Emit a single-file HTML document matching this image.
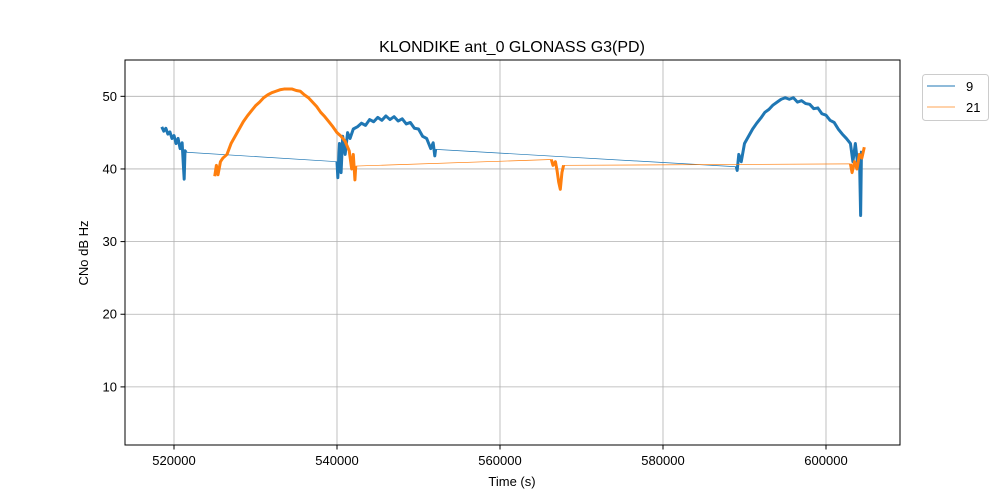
<!DOCTYPE html>
<html><head><meta charset="utf-8"><style>
html,body{margin:0;padding:0;background:#fff;}
svg{display:block;font-family:"Liberation Sans","DejaVu Sans",sans-serif;}
</style></head><body>
<svg id="chart" width="1000" height="500" xmlns="http://www.w3.org/2000/svg">
<rect width="1000" height="500" fill="#fff"/>
<text x="512" y="52" font-size="16" text-anchor="middle">KLONDIKE ant_0 GLONASS G3(PD)</text>
<g id="grid"></g>
<g id="series"></g>
<rect x="125" y="60" width="775" height="385" fill="none" stroke="#000" stroke-width="1"/>
<g id="ticks"></g>
<text x="512" y="486" font-size="13" text-anchor="middle">Time (s)</text>
<text transform="translate(88,253) rotate(-90)" font-size="13" text-anchor="middle">CNo dB Hz</text>
<g>
<rect x="922.5" y="74.5" width="66" height="46" rx="3" fill="#fff" stroke="#ccc"/>
<line x1="927" y1="86" x2="955" y2="86" stroke="#1f77b4" stroke-width="1"/>
<text x="966" y="91" font-size="13">9</text>
<line x1="927" y1="107" x2="955" y2="107" stroke="#ff7f0e" stroke-width="1" opacity="0.7"/>
<text x="966" y="112" font-size="13">21</text>
</g>
</svg>
<script>
const xTicks=[520000,540000,560000,580000,600000];
const yTicks=[10,20,30,40,50];
const sat9=[
[[518500,45.8],[518750,45.2],[519000,45.6],[519250,44.8],[519500,45.1],[519750,44.2],[520000,44.6],[520250,43.5],[520500,44.2],[520750,42.8],[521000,43.6],[521150,40.5],[521250,38.6],[521350,42.5],[521500,42.3]],
[[540000,41.0],[540100,38.8],[540300,43.5],[540500,39.5],[540700,44.5],[541000,42],[541300,45],[541600,44.2],[542000,45.5],[542500,45.8],[543000,46.3],[543500,46.0],[544000,46.8],[544500,46.5],[545000,47.1],[545500,46.7],[546000,47.3],[546500,46.8],[547000,47.2],[547500,46.6],[548000,46.9],[548500,46.2],[549000,46.4],[549500,45.6],[550000,45.5],[550500,44.5],[551000,44.2],[551500,42.8],[551800,43.6],[552000,41.8],[552100,42.7]],
[[589000,40.3],[589100,39.8],[589300,42],[589600,41],[590000,43.5],[590500,44.5],[591000,45.5],[591500,46.3],[592000,47],[592500,47.8],[593000,48.2],[593500,48.8],[594000,49.2],[594500,49.6],[595000,49.8],[595500,49.6],[596000,49.8],[596500,49.2],[597000,49.4],[597500,49.0],[598000,48.9],[598500,48.3],[599000,48.4],[599500,47.6],[600000,47.4],[600500,46.7],[601000,46.4],[601500,45.5],[602000,44.8],[602500,44.2],[603000,43.5],[603300,41],[603600,43.5],[603900,40.5],[604100,42],[604250,33.6],[604350,42.5]]
];
const sat21=[
[[525000,39],[525200,40.5],[525400,39.2],[525700,41],[526000,41.5],[526500,42],[527000,43.5],[527500,44.5],[528000,45.5],[528500,46.5],[529000,47.3],[529500,48],[530000,48.7],[530500,49.2],[531000,49.8],[531500,50.2],[532000,50.5],[532500,50.7],[533000,50.9],[533500,51],[534000,51],[534500,51],[535000,50.8],[535500,50.7],[536000,50.2],[536500,49.8],[537000,49.2],[537500,48.6],[538000,47.8],[538500,47.2],[539000,46.5],[539500,45.8],[540000,45],[540500,44.5],[541000,43.8],[541500,42.5],[541800,40],[542000,42],[542200,38.5],[542300,40.4]],
[[566300,41.3],[566500,40.5],[566800,41],[567000,39.8],[567200,38.2],[567400,37.2],[567600,39.5],[567800,40.5]],
[[603000,40.7],[603200,39.5],[603500,41],[603800,40],[604100,42],[604400,41.5],[604700,43]]
];
const X0=513988,X1=609080,Y0=2,Y1=55;
const px=t=>125+(t-X0)/(X1-X0)*775;
const py=v=>445-(v-Y0)/(Y1-Y0)*385;
const NS="http://www.w3.org/2000/svg";
const grid=document.getElementById('grid'),ticks=document.getElementById('ticks'),ser=document.getElementById('series');
function mk(tag,attrs,parent){const e=document.createElementNS(NS,tag);for(const k in attrs)e.setAttribute(k,attrs[k]);parent.appendChild(e);return e;}
xTicks.forEach(t=>{const x=px(t);
 const g=mk('line',{x1:x,y1:60,x2:x,y2:445,stroke:'#b0b0b0','stroke-width':0.8},grid);
 
 
 const tk=mk('line',{x1:x,y1:445,x2:x,y2:449.5,stroke:'#000'},ticks);
 
 
 const tx=mk('text',{x:x,y:465,'font-size':13,'text-anchor':'middle'},ticks);tx.textContent=t;
 
 
});
yTicks.forEach(v=>{const y=py(v);
 const g=mk('line',{x1:125,y1:y,x2:900,y2:y,stroke:'#b0b0b0','stroke-width':0.8},grid);
 
 
 const tk=mk('line',{x1:120.5,y1:y,x2:125,y2:y,stroke:'#000'},ticks);
 
 
 const tx=mk('text',{x:117,y:y+4.5,'font-size':13,'text-anchor':'end'},ticks);tx.textContent=v;
 
 
});
function draw(segs,color,name){
 for(let i=0;i<segs.length-1;i++){const a=segs[i][segs[i].length-1],b=segs[i+1][0];
  const l=mk('line',{x1:px(a[0]),y1:py(a[1]),x2:px(b[0]),y2:py(b[1]),stroke:color,'stroke-width':0.7},ser);
  
  
 }
 segs.forEach(s=>{const p=mk('polyline',{points:s.map(d=>px(d[0])+','+py(d[1])).join(' '),fill:'none',stroke:color,'stroke-width':3,'stroke-linejoin':'round'},ser);
  
  
 });
}
draw(sat9,'#1f77b4','series-9');
draw(sat21,'#ff7f0e','series-21');
</script>
</body></html>
